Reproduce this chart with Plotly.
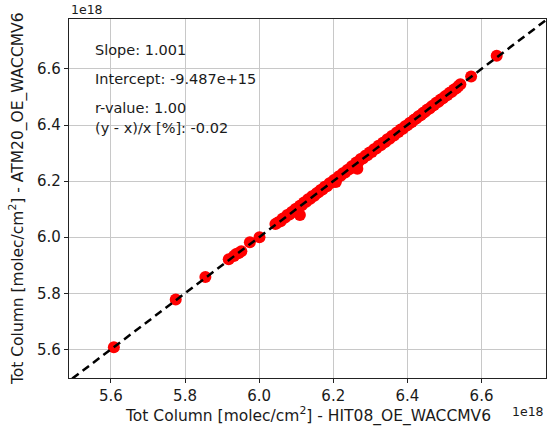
import plotly.graph_objects as go

# Values in units of 1e18 molec/cm^2
x_iso = [5.608, 5.775, 5.855, 5.918, 5.932, 5.938, 5.945, 5.952, 5.975, 6.001, 6.044]
y_iso = [5.608, 5.778, 5.858, 5.921, 5.933, 5.940, 5.944, 5.950, 5.982, 6.000, 6.047]

x_band = [6.050, 6.058, 6.063, 6.070, 6.076, 6.082, 6.088, 6.093, 6.098, 6.104,
          6.110, 6.115, 6.121, 6.127, 6.132, 6.138, 6.143, 6.149, 6.155, 6.160,
          6.166, 6.171, 6.177, 6.183, 6.190, 6.196, 6.202, 6.208, 6.214, 6.220,
          6.226, 6.232, 6.238, 6.244, 6.250, 6.256, 6.262, 6.268, 6.274, 6.280,
          6.286, 6.292, 6.298, 6.304, 6.310, 6.316, 6.322, 6.328, 6.334, 6.340,
          6.346, 6.352, 6.358, 6.364, 6.370, 6.376, 6.382, 6.388, 6.394, 6.400,
          6.406, 6.412, 6.418, 6.424, 6.430, 6.436, 6.442, 6.448, 6.454, 6.460,
          6.466, 6.472, 6.478, 6.484, 6.490, 6.496, 6.502, 6.508, 6.514, 6.520,
          6.526, 6.532, 6.538, 6.543]
y_band = [6.052, 6.057, 6.066, 6.070, 6.079, 6.081, 6.090, 6.092, 6.101, 6.103,
          6.112, 6.114, 6.124, 6.126, 6.135, 6.137, 6.146, 6.148, 6.157, 6.160,
          6.168, 6.170, 6.180, 6.182, 6.192, 6.195, 6.204, 6.207, 6.216, 6.219,
          6.228, 6.231, 6.240, 6.243, 6.253, 6.255, 6.266, 6.268, 6.279, 6.281,
          6.290, 6.292, 6.302, 6.304, 6.314, 6.316, 6.326, 6.328, 6.337, 6.339,
          6.349, 6.351, 6.361, 6.363, 6.372, 6.375, 6.384, 6.387, 6.396, 6.399,
          6.407, 6.411, 6.419, 6.423, 6.431, 6.435, 6.443, 6.447, 6.455, 6.459,
          6.467, 6.471, 6.479, 6.483, 6.491, 6.495, 6.503, 6.507, 6.515, 6.519,
          6.527, 6.531, 6.539, 6.545]

x_extra = [6.110, 6.207, 6.265, 6.572, 6.641]
y_extra = [6.079, 6.197, 6.244, 6.573, 6.647]

tick_vals = [5.6, 5.8, 6.0, 6.2, 6.4, 6.6]
tick_text = ["5.6", "5.8", "6.0", "6.2", "6.4", "6.6"]

x_range = [5.487, 6.774]
y_range = [5.498, 6.778]
one_to_one = [5.3, 7.0]

stats_lines = ["Slope: 1.001", "Intercept: -9.487e+15", "r-value: 1.00", "(y - x)/x [%]: -0.02"]
stats_y = [0.914, 0.833, 0.752, 0.696]

x_title = "Tot Column [molec/cm<sup>2</sup>] - HIT08_OE_WACCMV6"
y_title = "Tot Column [molec/cm<sup>2</sup>] - ATM20_OE_WACCMV6"

FONT = "DejaVu Sans"
TXT = "#1a1a1a"

fig = go.Figure()
fig.add_trace(go.Scatter(
    x=x_iso + x_band + x_extra, y=y_iso + y_band + y_extra,
    mode="markers", marker=dict(color="#ff0000", size=12, line=dict(width=0)),
    showlegend=False))
fig.add_trace(go.Scatter(
    x=one_to_one, y=one_to_one, mode="lines",
    line=dict(color="black", width=2.5, dash="8px,5px"), showlegend=False))

axis_common = dict(
    showgrid=True, gridcolor="#c8c8c8", gridwidth=1,
    showline=True, linecolor="#222222", linewidth=1.2, mirror=True,
    ticks="outside", ticklen=4, tickwidth=1, tickcolor="#222222",
    tickvals=tick_vals, ticktext=tick_text,
    tickfont=dict(family=FONT, size=15, color=TXT),
    zeroline=False)

fig.update_xaxes(range=x_range, **axis_common)
fig.update_yaxes(range=y_range, **axis_common)

anns = []
for t, yy in zip(stats_lines, stats_y):
    anns.append(dict(text=t, x=0.05, y=yy, xref="paper", yref="paper",
                     xanchor="left", yanchor="middle", showarrow=False,
                     font=dict(family=FONT, size=14.5, color=TXT)))
anns.append(dict(text=x_title, x=0.5, y=-0.102, xref="paper", yref="paper",
                 xanchor="center", yanchor="middle", showarrow=False,
                 font=dict(family=FONT, size=15.5, color=TXT)))
anns.append(dict(text=y_title, x=-0.11, y=0.5, xref="paper", yref="paper",
                 xanchor="center", yanchor="middle", showarrow=False, textangle=-90,
                 font=dict(family=FONT, size=15.5, color=TXT)))
anns.append(dict(text="1e18", x=0.0, y=1.0, xref="paper", yref="paper",
                 xanchor="left", yanchor="bottom", yshift=0, showarrow=False,
                 font=dict(family=FONT, size=12.5, color=TXT)))
anns.append(dict(text="1e18", x=1.0, y=-0.092, xref="paper", yref="paper",
                 xanchor="right", yanchor="middle", showarrow=False,
                 font=dict(family=FONT, size=12.5, color=TXT)))

fig.update_layout(
    width=547, height=427,
    margin=dict(l=69, r=1, t=19, b=49),
    paper_bgcolor="white", plot_bgcolor="white",
    annotations=anns,
    font=dict(family=FONT))

fig.write_html("out.html")
